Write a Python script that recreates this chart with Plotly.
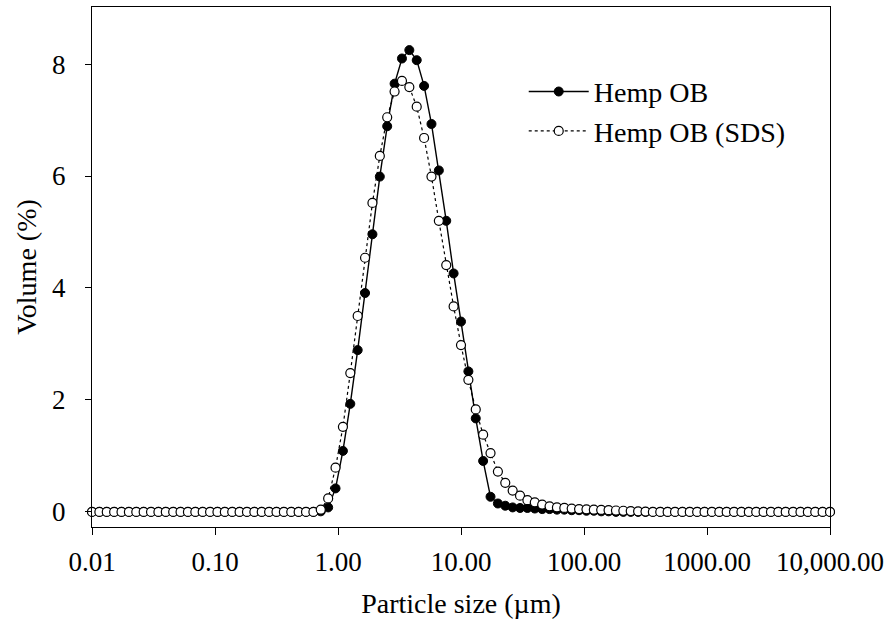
import numpy as np
import plotly.graph_objects as go

# Particle size classes (µm): 101 log-spaced instrument size classes, 0.01 to 10,000
size_um = np.logspace(-2, 4, 101)

# Volume (%), one value per size class
hemp_ob = ([0.0] * 31 +
           [0.01, 0.08, 0.42, 1.09, 1.93, 2.89, 3.91, 4.96, 5.99, 6.89,
            7.65, 8.10, 8.25, 8.07, 7.61, 6.93, 6.10, 5.20, 4.26, 3.40,
            2.51, 1.67, 0.91, 0.27, 0.15, 0.11, 0.08, 0.07, 0.07, 0.06,
            0.05, 0.05, 0.04, 0.04, 0.03, 0.03, 0.02, 0.02, 0.01, 0.01] +
           [0.0] * 30)
hemp_ob_sds = ([0.0] * 31 +
               [0.04, 0.24, 0.79, 1.52, 2.48, 3.50, 4.54, 5.52, 6.36, 7.05,
                7.51, 7.70, 7.59, 7.24, 6.68, 5.99, 5.20, 4.41, 3.67, 2.98,
                2.36, 1.83, 1.38, 1.05, 0.72, 0.52, 0.38, 0.29, 0.21, 0.17,
                0.13, 0.10, 0.08, 0.07, 0.06, 0.05, 0.045, 0.04, 0.035, 0.03,
                0.025, 0.02, 0.015, 0.01, 0.005] +
               [0.0] * 25)

x_tickvals = [0.01, 0.1, 1, 10, 100, 1000, 10000]
x_ticktext = ["0.01", "0.10", "1.00", "10.00", "100.00", "1000.00", "10,000.00"]
y_tickvals = [0, 2, 4, 6, 8]

FONT = "Liberation Serif, Times New Roman, serif"

fig = go.Figure()
fig.add_trace(go.Scatter(
    x=size_um, y=hemp_ob, name="Hemp OB", mode="lines+markers",
    line=dict(color="black", width=1.4),
    marker=dict(symbol="circle", size=9, color="black",
                line=dict(color="black", width=1)),
    cliponaxis=False, legendgroup="a",
))
fig.add_trace(go.Scatter(
    x=size_um, y=hemp_ob_sds, name="Hemp OB (SDS)", mode="lines+markers",
    line=dict(color="black", width=1.2, dash="dot"),
    marker=dict(symbol="circle", size=9, color="white",
                line=dict(color="black", width=1.2)),
    cliponaxis=False, legendgroup="b",
))

fig.update_layout(
    width=892, height=622,
    margin=dict(l=92, r=62, t=7, b=95),
    paper_bgcolor="white", plot_bgcolor="white",
    font=dict(family=FONT, size=28, color="black"),
    showlegend=True,
    legend=dict(x=0.585, y=0.885, xanchor="left", yanchor="top",
                bgcolor="rgba(0,0,0,0)", font=dict(size=28),
                itemwidth=60, tracegroupgap=0, traceorder="grouped"),
    xaxis=dict(
        type="log", range=[-2, 4],
        tickvals=x_tickvals, ticktext=x_ticktext,
        ticks="outside", ticklen=7, tickwidth=1, tickcolor="black",
        showline=True, linecolor="black", linewidth=1, mirror=True,
        showgrid=False, zeroline=False,
        tickfont=dict(size=27), ticklabelstandoff=4,
        title=dict(text="Particle size (µm)", font=dict(size=28), standoff=16),
    ),
    yaxis=dict(
        range=[-0.27, 9.02],
        tickvals=y_tickvals,
        ticks="outside", ticklen=6, tickwidth=1, tickcolor="black",
        showline=True, linecolor="black", linewidth=1, mirror=True,
        showgrid=False, zeroline=False,
        tickfont=dict(size=27), ticklabelstandoff=14,
        title=dict(text="Volume (%)", font=dict(size=28), standoff=7),
    ),
)

fig.write_html("out.html")
